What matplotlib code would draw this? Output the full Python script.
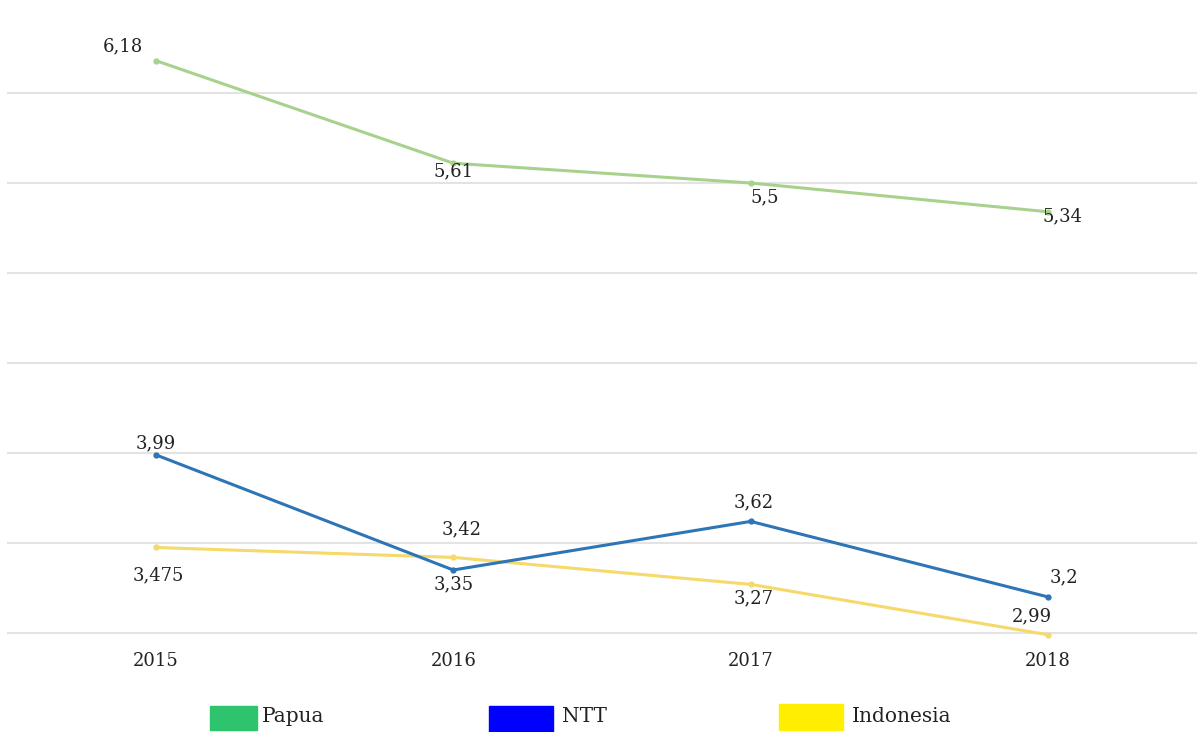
import matplotlib
matplotlib.use("Agg")
import matplotlib.pyplot as plt
from matplotlib.patches import Rectangle

years = ["2015", "2016", "2017", "2018"]
papua = [6.18, 5.61, 5.5, 5.34]
ntt = [3.99, 3.35, 3.62, 3.2]
indonesia = [3.475, 3.42, 3.27, 2.99]
papua_labels = ["6,18", "5,61", "5,5", "5,34"]
ntt_labels = ["3,99", "3,35", "3,62", "3,2"]
indo_labels = ["3,475", "3,42", "3,27", "2,99"]
series_names = ["Papua", "NTT", "Indonesia"]
legend_colors = ["#2ec46d", "#0000ff", "#ffee00"]

plt.rcParams['font.family'] = ['DejaVu Serif']

W, H = 1199, 732
fig = plt.figure(figsize=(W / 100, H / 100), dpi=100)
ymin, ymax = 2.98, 6.5
pxu = 180.0
bottom_px = 633 + (3.0 - ymin) * pxu
top_px = 633 - (ymax - 3.0) * pxu
ax = fig.add_axes([7 / W, 1 - bottom_px / H, 1190 / W, (bottom_px - top_px) / H])

x = list(range(len(years)))
c_p, c_n, c_i = "#a9d18e", "#2e75b6", "#f5d96b"
ax.plot(x, papua, color=c_p, lw=2.2, marker="o", ms=3.5, zorder=3, clip_on=False)
ax.plot(x, ntt, color=c_n, lw=2.2, marker="o", ms=3.5, zorder=4, clip_on=False)
ax.plot(x, indonesia, color=c_i, lw=2.2, marker="o", ms=3.5, zorder=3, clip_on=False)

ax.set_xlim(-0.5, 3.5)
ax.set_ylim(ymin, ymax)
ax.set_yticks([3.0, 3.5, 4.0, 4.5, 5.0, 5.5, 6.0])
ax.yaxis.grid(True, color="#e3e3e3", lw=1.5)
ax.set_axisbelow(True)
for s in ax.spines.values():
    s.set_visible(False)
ax.tick_params(axis="y", left=False, labelleft=False)
ax.tick_params(axis="x", bottom=False, pad=7.5, labelsize=13, labelcolor="#222222")
ax.set_xticks(x)
ax.set_xticklabels(years)

fs = 13
tc = "#222222"
p_off = [(-24, 10), (0, -6), (10, -10), (10, -3)]
n_off = [(0, 8), (0, -10), (2, 14), (11, 14)]
i_off = [(2, -20), (6, 20), (2, -10), (-12, 13)]
for vals, labs, offs in ((papua, papua_labels, p_off), (ntt, ntt_labels, n_off), (indonesia, indo_labels, i_off)):
    for xi, v, t, o in zip(x, vals, labs, offs):
        ax.annotate(t, (xi, v), xytext=o, textcoords="offset points", ha="center", va="center",
                    fontsize=fs, color=tc, annotation_clip=False, zorder=5)

# legend (custom placed)
patch_px = [(210, 706, 47, 24), (489, 706, 64, 26), (779, 704, 64, 26)]
text_px = [262, 562, 852]
for (px, py, pw, ph), tx, name, col in zip(patch_px, text_px, series_names, legend_colors):
    fig.add_artist(Rectangle((px / W, 1 - (py + ph) / H), pw / W, ph / H, color=col,
                             transform=fig.transFigure))
    fig.text(tx / W, 1 - 716 / H, name, fontsize=14.5, color="#222222", va="center", ha="left")

fig.savefig("out.png", dpi=100)
